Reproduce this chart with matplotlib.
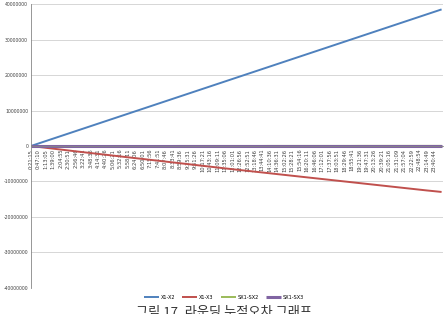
import matplotlib
matplotlib.use("Agg")
import matplotlib.pyplot as plt

plt.rcParams['font.family'] = ['Noto Sans CJK KR', 'DejaVu Sans']

# category labels (every label shown on the time axis)
TIMES = [
    "0:21:15", "0:47:10", "1:13:05", "1:39:00", "2:04:55", "2:30:51", "2:56:46", "3:22:41",
    "3:48:36", "4:14:31", "4:40:26", "5:06:21", "5:32:16", "5:58:11", "6:24:06", "6:50:01",
    "7:15:56", "7:41:51", "8:07:46", "8:33:41", "8:59:36", "9:25:31", "9:51:26", "10:17:21",
    "10:43:16", "11:09:11", "11:35:06", "12:01:01", "12:26:56", "12:52:51", "13:18:46", "13:44:41",
    "14:10:36", "14:36:31", "15:02:26", "15:28:21", "15:54:16", "16:20:11", "16:46:06", "17:12:01",
    "17:37:56", "18:03:51", "18:29:46", "18:55:41", "19:21:36", "19:47:31", "20:13:26", "20:39:21",
    "21:05:16", "21:31:09", "21:57:04", "22:22:59", "22:48:54", "23:14:49", "23:40:44",
]

# series values in millions, one value per category step
X1_X2 = [
    0.00, 0.70, 1.40, 2.10, 2.80, 3.50, 4.20, 4.90,
    5.60, 6.30, 7.00, 7.70, 8.40, 9.10, 9.80, 10.50,
    11.20, 11.90, 12.60, 13.30, 14.00, 14.70, 15.40, 16.10,
    16.80, 17.50, 18.20, 18.90, 19.60, 20.30, 21.00, 21.70,
    22.40, 23.10, 23.80, 24.50, 25.20, 25.90, 26.60, 27.30,
    28.00, 28.70, 29.40, 30.10, 30.80, 31.50, 32.20, 32.90,
    33.60, 34.30, 35.00, 35.70, 36.40, 37.10, 37.80, 38.50,
]
X1_X3 = [
    0.00, -0.25, -0.50, -0.75, -1.00, -1.25, -1.50, -1.74,
    -1.98, -2.22, -2.46, -2.70, -2.94, -3.18, -3.42, -3.66,
    -3.90, -4.14, -4.38, -4.62, -4.86, -5.10, -5.34, -5.58,
    -5.82, -6.06, -6.30, -6.54, -6.77, -7.00, -7.23, -7.46,
    -7.69, -7.92, -8.15, -8.38, -8.61, -8.84, -9.07, -9.30,
    -9.53, -9.76, -9.99, -10.22, -10.45, -10.68, -10.91, -11.14,
    -11.37, -11.60, -11.83, -12.06, -12.29, -12.52, -12.73, -12.95,
]
SX1_SX2 = [
    0.00, 0.00, 0.00, 0.00, 0.00, 0.00, 0.00, 0.00,
    0.01, 0.01, 0.01, 0.01, 0.01, 0.01, 0.01, 0.01,
    0.01, 0.01, 0.01, 0.01, 0.02, 0.02, 0.02, 0.02,
    0.02, 0.02, 0.02, 0.02, 0.02, 0.02, 0.02, 0.02,
    0.03, 0.03, 0.03, 0.03, 0.03, 0.03, 0.03, 0.03,
    0.03, 0.03, 0.03, 0.03, 0.04, 0.04, 0.04, 0.04,
    0.04, 0.04, 0.04, 0.04, 0.04, 0.04, 0.04, 0.04,
]
SX1_SX3 = [
    0.00, 0.00, 0.00, 0.00, 0.00, 0.00, 0.00, 0.00,
    0.00, 0.00, 0.00, 0.00, 0.00, 0.00, 0.00, 0.00,
    0.00, 0.00, 0.00, 0.00, 0.00, 0.00, 0.00, 0.00,
    0.00, 0.00, 0.00, 0.00, 0.00, 0.00, 0.00, 0.00,
    0.00, 0.00, 0.00, 0.00, 0.00, 0.00, 0.00, 0.00,
    0.00, 0.00, 0.00, 0.00, 0.00, 0.00, 0.00, 0.00,
    0.00, 0.00, 0.00, 0.00, 0.00, 0.00, 0.00, 0.00,
]

SERIES = [("X1-X2", X1_X2, "#4F81BD"), ("X1-X3", X1_X3, "#C0504D"),
          ("SX1-SX2", SX1_SX2, "#9BBB59"), ("SX1-SX3", SX1_SX3, "#8064A2")]
YTICKS = [-40000000, -30000000, -20000000, -10000000, 0,
          10000000, 20000000, 30000000, 40000000]
CAPTION = "그림 17. 라운딩 누적오차 그래프"

fig = plt.figure(figsize=(4.48, 3.14), dpi=100)
ax = fig.add_axes([0.069, 0.083, 0.92, 0.904])

# axis line through zero first: moving the spine resets tick styling
ax.spines["bottom"].set_position(("data", 0))
ax.spines["bottom"].set_color("#868686")
ax.spines["bottom"].set_linewidth(0.6)
ax.spines["left"].set_color("#868686")
ax.spines["left"].set_linewidth(0.6)
ax.spines["top"].set_visible(False)
ax.spines["right"].set_visible(False)

for name, vals, col in SERIES:
    xs = range(len(vals))
    lw = 2.2 if name == "SX1-SX3" else 1.4
    ax.plot(xs, [v * 1e6 for v in vals], color=col, lw=lw, label=name,
            solid_capstyle="butt")

ax.set_xlim(0, 55.2)
ax.set_ylim(-40000000, 40000000)
ax.set_yticks(YTICKS)
ax.set_yticklabels([str(t) for t in YTICKS], fontsize=3.3, color="#404040",
                   family="DejaVu Sans")
ax.grid(axis="y", color="#d0d0d0", lw=0.6)
ax.set_axisbelow(True)

ax.set_xticks(range(len(TIMES)))
ax.set_xticklabels(TIMES, rotation=90, fontsize=3.7, color="#404040",
                   family="DejaVu Sans", va="top")
ax.tick_params(axis="x", length=0, pad=2)
ax.tick_params(axis="y", length=0, pad=2)

fig.legend(loc="center", bbox_to_anchor=(0.5, 0.054), ncol=4, frameon=False,
           handlelength=3.0, handletextpad=0.4, columnspacing=1.4,
           prop={"family": "DejaVu Sans", "size": 3.6})

fig.text(0.5, 0.026, CAPTION, ha="center", va="top", fontsize=9.5, color="#333333")

fig.savefig("out.png", dpi=100)
